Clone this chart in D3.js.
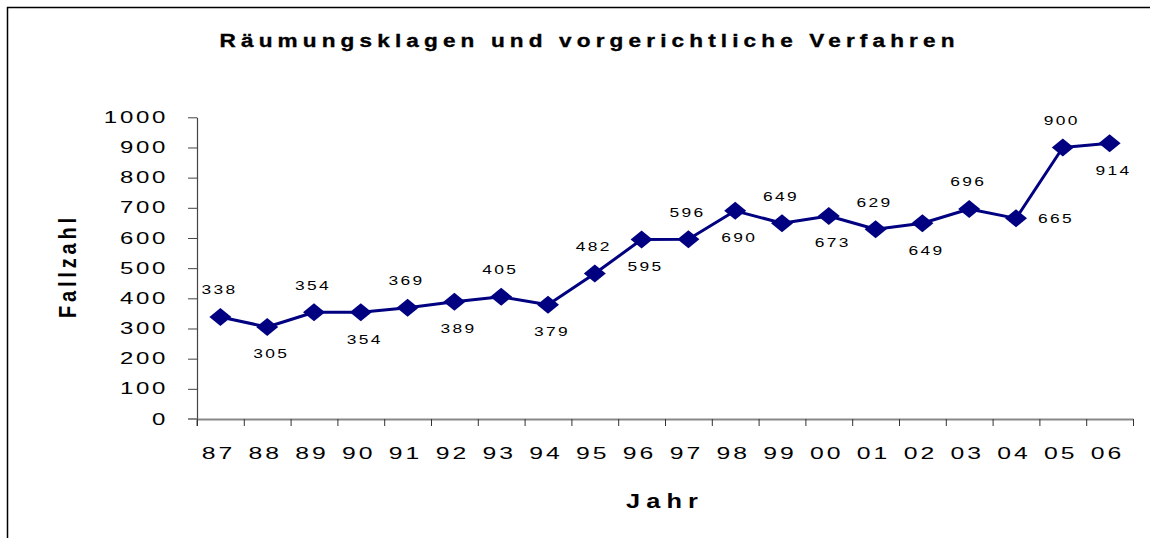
<!DOCTYPE html>
<html>
<head>
<meta charset="utf-8">
<script src="https://cdn.jsdelivr.net/npm/d3@7"></script>
<style>
  html, body { margin: 0; padding: 0; background: #fff; }
  svg { display: block; }
  text { font-family: "Liberation Sans", Arial, sans-serif; fill: #000; }
</style>
</head>
<body>
<svg id="chart" width="1150" height="538"></svg>
<script>
// ── Data ──
const years = ['87', '88', '89', '90', '91', '92', '93', '94', '95', '96',
               '97', '98', '99', '00', '01', '02', '03', '04', '05', '06'];
const cases = [338, 305, 354, 354, 369, 389, 405, 379, 482, 595,
               596, 690, 649, 673, 629, 649, 696, 665, 900, 914];
const yTicks = [0, 100, 200, 300, 400, 500, 600, 700, 800, 900, 1000];
// where each value label sits relative to its marker
const labelSide = ['t', 'b', 't', 'b', 't', 'b', 't', 'b', 't', 'b',
                   't', 'b', 't', 'b', 't', 'b', 't', 'r', 't', 'b'];

const TITLE = 'Räumungsklagen und vorgerichtliche Verfahren';
const X_TITLE = 'Jahr';
const Y_TITLE = 'Fallzahl';

const NAVY = '#000080';
const SX = 1.5;          // the original text is stretched horizontally

const svg = d3.select('#chart');

// frame
svg.append('path')
  .attr('d', 'M7.5,540 L7.5,7.5 L1152,7.5')
  .attr('fill', 'none')
  .attr('stroke', '#000')
  .attr('stroke-width', 1.5);

// ── Scales ──
const x = d3.scaleBand().domain(years).range([197, 1133]);
const xb = d3.scaleLinear().domain([0, years.length]).range([197, 1133]);
const y = d3.scaleLinear().domain([0, 1000]).range([419, 117.3]);
const cx = d => x(d) + x.bandwidth() / 2;

// ── Y axis ──
const yAxis = svg.append('g')
  .attr('transform', 'translate(197,0)')
  .call(d3.axisLeft(y).tickValues(yTicks).tickFormat(d3.format('d'))
    .tickSize(9).tickPadding(29).tickSizeOuter(0));
yAxis.select('.domain').attr('stroke', '#444').attr('stroke-width', 1.2);
yAxis.selectAll('.tick line').attr('stroke', '#444');
yAxis.selectAll('.tick text')
  .attr('x', -29 / SX)
  .attr('transform', `scale(${SX},1)`)
  .attr('font-size', 16)
  .attr('letter-spacing', 1.8)
  .attr('fill', '#000');

// extend y axis down to the x tick length
svg.append('line')
  .attr('x1', 197).attr('x2', 197)
  .attr('y1', y(0)).attr('y2', y(0) + 7)
  .attr('stroke', '#444');

// ── X axis: boundary ticks ──
const xAxisTicks = svg.append('g')
  .attr('transform', `translate(0,${y(0)})`)
  .call(d3.axisBottom(xb).ticks(years.length).tickSize(7).tickFormat('').tickSizeOuter(0));
xAxisTicks.select('.domain').attr('stroke', '#888').attr('stroke-width', 2);
xAxisTicks.selectAll('.tick line').attr('stroke', '#333');

svg.append('line')
  .attr('x1', 188).attr('x2', 197)
  .attr('y1', y(0)).attr('y2', y(0))
  .attr('stroke', '#888').attr('stroke-width', 2);

// ── X axis: labels ──
const xAxisLabels = svg.append('g')
  .attr('transform', `translate(-2,${y(0)})`)
  .call(d3.axisBottom(x).tickSize(0).tickPadding(28));
xAxisLabels.select('.domain').remove();
xAxisLabels.selectAll('.tick text')
  .attr('y', 28)
  .attr('transform', `scale(${SX},1)`)
  .attr('font-size', 16.5)
  .attr('letter-spacing', 2)
  .attr('fill', '#000');

// ── Line ──
const line = d3.line()
  .x((d, i) => cx(years[i]))
  .y(d => y(d));

svg.append('path')
  .datum(cases)
  .attr('d', line)
  .attr('fill', 'none')
  .attr('stroke', NAVY)
  .attr('stroke-width', 3)
  .attr('stroke-linejoin', 'round');

// ── Markers ──
svg.append('g')
  .selectAll('path')
  .data(cases)
  .join('path')
  .attr('transform', (d, i) => `translate(${cx(years[i])},${y(d)})`)
  .attr('d', 'M-11,0L0,-9L11,0L0,9Z')
  .attr('fill', NAVY);

// ── Value labels ──
svg.append('g')
  .selectAll('text')
  .data(cases)
  .join('text')
  .attr('transform', (d, i) => {
    const side = labelSide[i];
    let px = cx(years[i]), py = y(d);
    if (side === 't') { px -= 1; py -= 27; }
    else if (side === 'b') { px += 4; py += 27; }
    else { px += 22; }
    return `translate(${px},${py}) scale(1.45,1)`;
  })
  .attr('text-anchor', (d, i) => labelSide[i] === 'r' ? 'start' : 'middle')
  .attr('dy', '0.36em')
  .attr('font-size', 12)
  .attr('letter-spacing', 1.6)
  .text(d => d);

// ── Titles ──
svg.append('text')
  .attr('transform', 'translate(587,47) scale(1.22,1)')
  .attr('text-anchor', 'middle')
  .attr('font-size', 18.5)
  .attr('font-weight', 'bold')
  .attr('stroke', '#000')
  .attr('stroke-width', 0.35)
  .attr('textLength', 735 / 1.22)
  .attr('lengthAdjust', 'spacing')
  .text(TITLE);

svg.append('text')
  .attr('transform', 'translate(662,508) scale(1.3,1)')
  .attr('text-anchor', 'middle')
  .attr('font-size', 19.5)
  .attr('font-weight', 'bold')
  .attr('textLength', 72 / 1.3)
  .attr('lengthAdjust', 'spacing')
  .text(X_TITLE);

svg.append('text')
  .attr('transform', 'translate(76,268) scale(1.15,1) rotate(-90)')
  .attr('text-anchor', 'middle')
  .attr('font-size', 20)
  .attr('font-weight', 'bold')
  .attr('textLength', 100)
  .attr('lengthAdjust', 'spacing')
  .text(Y_TITLE);
</script>
</body>
</html>
